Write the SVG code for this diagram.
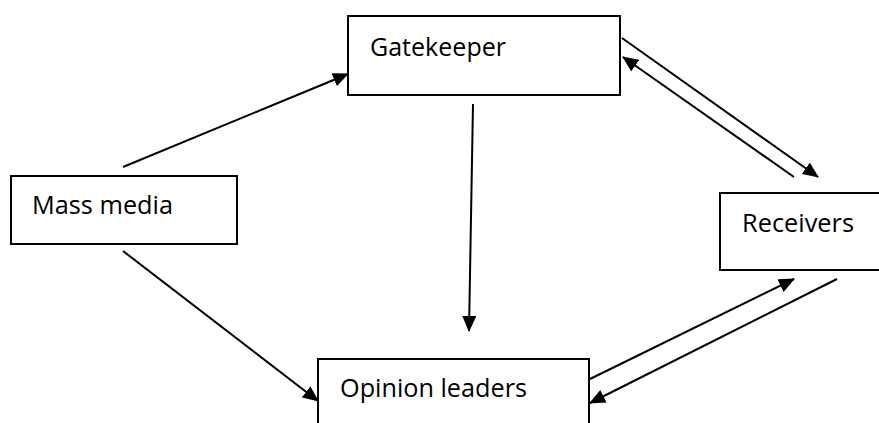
<svg xmlns="http://www.w3.org/2000/svg" width="879" height="423" viewBox="0 0 879 423">
<style>
.box{fill:#fff;stroke:#000;stroke-width:2}
.lbl{font-family:"Open Sans","Liberation Sans",sans-serif;font-size:26px;fill:#000}
.edge{stroke:#000;stroke-width:2;fill:none;marker-end:url(#ah)}
</style>
<defs>
<marker id="ah" markerUnits="userSpaceOnUse" markerWidth="16" markerHeight="14" refX="15" refY="7" orient="auto" viewBox="0 0 16 14">
<path d="M0,0 L16,7 L0,14 z" fill="#000"/>
</marker>
</defs>
<rect width="879" height="423" fill="#fff"/>
<g id="mass-media">
<rect class="box" x="11" y="176" width="226" height="68"/>
<text class="lbl" x="32" y="214" textLength="141" lengthAdjust="spacingAndGlyphs">Mass media</text>
</g>
<g id="gatekeeper">
<rect class="box" x="348" y="16" width="272" height="79"/>
<text class="lbl" x="370" y="56" textLength="136" lengthAdjust="spacingAndGlyphs">Gatekeeper</text>
</g>
<g id="receivers">
<rect class="box" x="720" y="193" width="162" height="77"/>
<text class="lbl" x="742" y="232" textLength="112" lengthAdjust="spacingAndGlyphs">Receivers</text>
</g>
<g id="opinion-leaders">
<rect class="box" x="318" y="359" width="271" height="80"/>
<text class="lbl" x="340" y="397" textLength="187" lengthAdjust="spacingAndGlyphs">Opinion leaders</text>
</g>
<g id="connectors">
<line class="edge" x1="123" y1="167" x2="348" y2="74"/>
<line class="edge" x1="123" y1="251" x2="318" y2="401"/>
<line class="edge" x1="473" y1="104" x2="469" y2="331"/>
<line class="edge" x1="622" y1="38" x2="818" y2="177"/>
<line class="edge" x1="794" y1="177" x2="623" y2="57"/>
<line class="edge" x1="590" y1="379" x2="794" y2="279"/>
<line class="edge" x1="837" y1="279" x2="590" y2="403"/>
</g>
</svg>
